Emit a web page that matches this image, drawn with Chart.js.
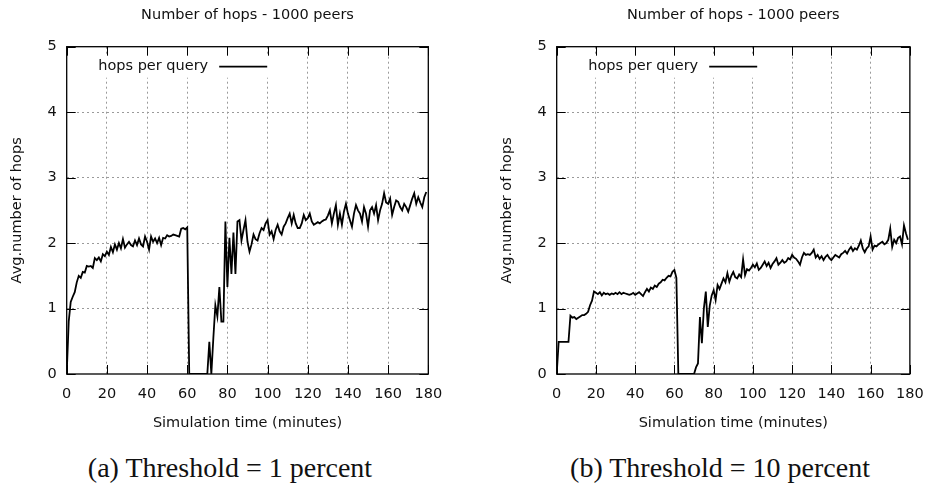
<!DOCTYPE html>
<html>
<head>
<meta charset="utf-8">
<script src="https://cdn.jsdelivr.net/npm/chart.js@4.4.1/dist/chart.umd.min.js"></script>
<style>
  html, body { margin: 0; padding: 0; background: #fff; }
  body { width: 935px; height: 489px; position: relative; overflow: hidden; }
  .panel { position: absolute; top: 0; }
  .caption {
    position: absolute; top: 454px; width: 460px; text-align: center;
    font-family: "Liberation Serif", serif; font-size: 28px; line-height: 28px; color: #111;
  }
</style>
</head>
<body>
<canvas id="hopsLow" class="panel" width="470" height="440" style="left:0px"></canvas>
<canvas id="hopsHigh" class="panel" width="445" height="440" style="left:490px"></canvas>
<div class="caption" style="left:0px">(a) Threshold = 1 percent</div>
<div class="caption" style="left:490px">(b) Threshold = 10 percent</div>
<script>
// one sample per simulated minute
const SAMPLE_MINUTES = 1;

// average hops per query, threshold = 1 percent
const hopsThreshold1 = [
  0, 0.8, 1.1, 1.18, 1.25, 1.4, 1.5, 1.47, 1.56, 1.55,
  1.65, 1.64, 1.65, 1.62, 1.77, 1.74, 1.78, 1.72, 1.83, 1.8,
  1.87, 1.82, 1.94, 1.86, 1.98, 1.9, 2.0, 1.92, 2.06, 1.93,
  1.98, 2.02, 1.97, 1.95, 2.04, 1.97, 2.07, 1.98, 1.95, 2.1,
  2.02, 1.9, 2.1, 2.02, 2.07, 2.0, 2.08, 1.97, 2.08, 2.07,
  2.12, 2.1, 2.11, 2.13, 2.12, 2.11, 2.1, 2.22, 2.23, 2.21,
  2.24, 0, 0, 0, 0, 0, 0, 0, 0, 0,
  0, 0.49, 0, 0.55, 1.05, 0.88, 1.33, 0.8, 0.8, 2.33,
  1.33, 2.08, 1.53, 2.16, 1.53, 2.33, 2.35, 2.04, 2.2, 2.35,
  2.02, 1.87, 1.98, 2.13, 2.06, 2.04, 2.15, 2.23, 2.2, 2.3,
  2.35, 2.13, 2.18, 2.06, 2.2, 2.28, 2.18, 2.13, 2.25, 2.3,
  2.38, 2.45, 2.3, 2.43, 2.3, 2.23, 2.23, 2.3, 2.43, 2.35,
  2.38, 2.45, 2.33, 2.28, 2.3, 2.32, 2.3, 2.33, 2.35, 2.36,
  2.42, 2.5, 2.3, 2.45, 2.58, 2.28, 2.45, 2.28, 2.48, 2.6,
  2.45, 2.35, 2.25, 2.45, 2.58, 2.5, 2.45, 2.33, 2.55, 2.45,
  2.25, 2.5, 2.55, 2.45, 2.58, 2.35, 2.5, 2.6, 2.76, 2.62,
  2.6, 2.68, 2.43, 2.55, 2.65, 2.63, 2.55, 2.5, 2.6, 2.55,
  2.48, 2.58, 2.68, 2.76, 2.6, 2.7, 2.62, 2.55, 2.7, 2.78
];

// average hops per query, threshold = 10 percent
const hopsThreshold10 = [
  0, 0.49, 0.49, 0.49, 0.49, 0.49, 0.49, 0.89, 0.86, 0.87,
  0.84, 0.86, 0.88, 0.9, 0.9, 0.92, 0.95, 1.05, 1.12, 1.26,
  1.24, 1.22, 1.25, 1.2, 1.24, 1.22, 1.23, 1.21, 1.23, 1.22,
  1.24, 1.22, 1.25, 1.22, 1.24, 1.23, 1.22, 1.21, 1.22, 1.24,
  1.21, 1.23, 1.25, 1.22, 1.19, 1.25, 1.3, 1.26, 1.32, 1.3,
  1.35, 1.33, 1.38, 1.4, 1.44, 1.43, 1.47, 1.5, 1.49, 1.56,
  1.59, 1.47, 0, 0, 0, 0, 0, 0, 0, 0,
  0, 0.1, 0.16, 0.87, 0.47, 1.0, 1.26, 0.72, 1.04, 1.2,
  1.28, 1.13, 1.36, 1.3, 1.38, 1.46, 1.4, 1.54, 1.41, 1.5,
  1.56, 1.48, 1.46, 1.52, 1.48, 1.75, 1.51, 1.6, 1.58, 1.62,
  1.67, 1.63, 1.69, 1.59, 1.62, 1.67, 1.72, 1.65, 1.7, 1.62,
  1.68, 1.72, 1.77, 1.67, 1.7, 1.74, 1.7, 1.72, 1.77, 1.75,
  1.82, 1.78, 1.76, 1.72, 1.67, 1.78, 1.85, 1.82, 1.83, 1.82,
  1.85, 1.9, 1.78, 1.82, 1.76, 1.8, 1.74, 1.79, 1.82, 1.77,
  1.74, 1.78, 1.82, 1.8, 1.78, 1.83, 1.85, 1.88, 1.84, 1.9,
  1.94, 1.88, 1.92, 1.9, 1.96, 2.04, 1.92, 1.86, 1.92, 1.95,
  2.1, 1.9, 1.96, 1.95, 1.98, 2.0, 2.02, 1.98, 2.0, 2.05,
  2.22, 1.94, 2.05, 2.0, 2.08, 2.1, 1.98, 2.27, 2.15, 2.05
];

const timeRange = [0, 180];
const timeStep = 20;
const hopsRange = [0, 5];
const hopsStep = 1;

const chartTitle = 'Number of hops - 1000 peers';
const seriesLabel = 'hops per query';
const xTitle = 'Simulation time (minutes)';
const yTitle = 'Avg.number of hops';

const INK = '#111';
const GRID = '#9a9a9a';
const TICK_LEN = 9;
const FONT = { family: 'DejaVu Sans', size: 14.5, weight: 'normal', lineHeight: 1.2 };

Chart.defaults.font.family = FONT.family;
Chart.defaults.color = INK;

// gnuplot-like frame: inward tick marks on all sides, border, and the key
const framePlugin = {
  id: 'gnuplotFrame',
  afterDraw(chart) {
    const { ctx, chartArea: a, scales: { x, y } } = chart;
    ctx.save();

    // key, with a blank box behind it
    const keyY = a.top + 20;
    ctx.fillStyle = '#fff';
    ctx.fillRect(a.left + 22, a.top + 9, 186, 22);
    ctx.fillStyle = INK;
    ctx.font = `${FONT.size}px "${FONT.family}"`;
    ctx.textAlign = 'right';
    ctx.textBaseline = 'middle';
    ctx.fillText(chart.data.datasets[0].label, a.left + 141.5, keyY);
    ctx.strokeStyle = '#000';
    ctx.lineWidth = 1.8;
    ctx.beginPath();
    ctx.moveTo(a.left + 152.5, keyY);
    ctx.lineTo(a.left + 200.5, keyY);
    ctx.stroke();

    ctx.lineWidth = 1;
    ctx.beginPath();
    x.ticks.forEach(t => {
      const px = Math.round(x.getPixelForValue(t.value)) + 0.5;
      ctx.moveTo(px, a.bottom); ctx.lineTo(px, a.bottom - TICK_LEN);
      ctx.moveTo(px, a.top); ctx.lineTo(px, a.top + TICK_LEN);
    });
    y.ticks.forEach(t => {
      const py = Math.round(y.getPixelForValue(t.value)) + 0.5;
      ctx.moveTo(a.left, py); ctx.lineTo(a.left + TICK_LEN, py);
      ctx.moveTo(a.right, py); ctx.lineTo(a.right - TICK_LEN, py);
    });
    ctx.stroke();

    ctx.lineWidth = 1.3;
    ctx.strokeRect(a.left, a.top, a.width, a.height);
    ctx.restore();
  }
};

function hideEdges(min, max) {
  return c => (c.tick && (c.tick.value === min || c.tick.value === max)) ? 'rgba(0,0,0,0)' : GRID;
}

function drawHops(canvasId, values, rightPad) {
  const points = values.map((v, i) => ({ x: i * SAMPLE_MINUTES, y: v }));
  return new Chart(document.getElementById(canvasId), {
    type: 'line',
    data: {
      datasets: [{
        label: seriesLabel,
        data: points,
        borderColor: '#000',
        borderWidth: 1.8,
        pointRadius: 0,
        tension: 0,
        fill: false
      }]
    },
    options: {
      responsive: false,
      animation: false,
      devicePixelRatio: 1,
      layout: { padding: { left: 0, right: rightPad, top: 0, bottom: 0 } },
      plugins: {
        legend: { display: false },
        tooltip: { enabled: false },
        title: {
          display: true,
          fullSize: false,
          text: chartTitle,
          color: INK,
          font: FONT,
          padding: { top: 6.8, bottom: 22.5 }
        }
      },
      scales: {
        x: {
          type: 'linear',
          min: timeRange[0],
          max: timeRange[1],
          ticks: { stepSize: timeStep, padding: 11.3, color: INK, font: FONT, maxRotation: 0 },
          grid: { drawTicks: false, lineWidth: 1, color: hideEdges(timeRange[0], timeRange[1]) },
          border: { display: false, dash: [2, 3] },
          title: { display: true, text: xTitle, color: INK, font: FONT, padding: { top: 0, bottom: 8.3 } },
          afterFit: s => { s.height = 66; }
        },
        y: {
          min: hopsRange[0],
          max: hopsRange[1],
          ticks: { stepSize: hopsStep, padding: 10, color: INK, font: FONT },
          grid: { drawTicks: false, lineWidth: 1, color: hideEdges(hopsRange[0], hopsRange[1]) },
          border: { display: false, dash: [2, 3] },
          title: { display: true, text: yTitle, color: INK, font: FONT, padding: { top: 8.8, bottom: 0 } },
          afterFit: s => { s.width = 66.7; }
        }
      }
    },
    plugins: [framePlugin]
  });
}

drawHops('hopsLow', hopsThreshold1, 470 - 428.3);
drawHops('hopsHigh', hopsThreshold10, 445 - 428.7);
</script>
</body>
</html>
